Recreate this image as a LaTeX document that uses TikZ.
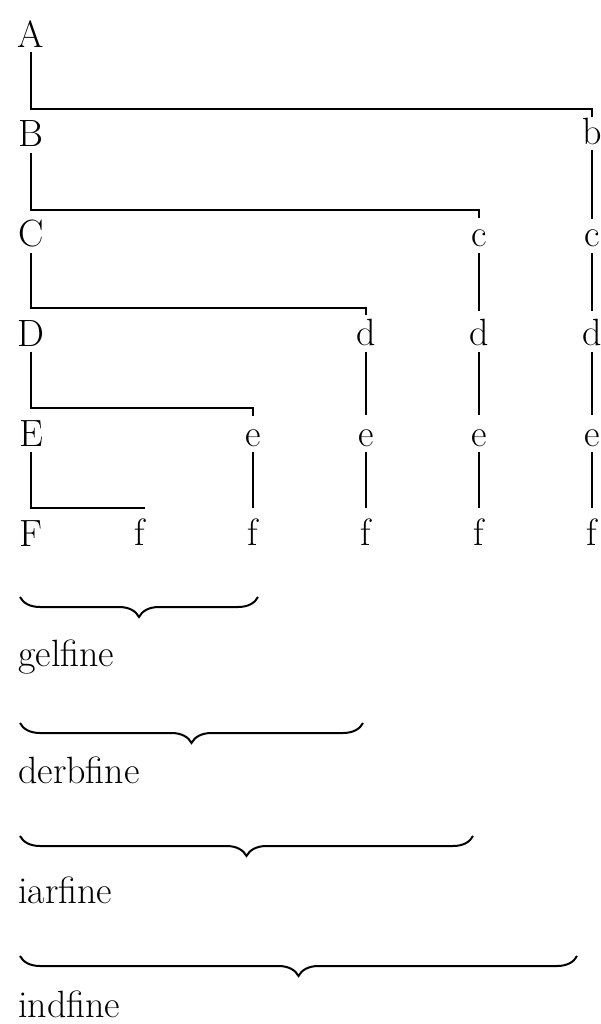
\documentclass[tikz,border=0pt]{standalone}
\usetikzlibrary{decorations.pathreplacing}
\begin{document}
\begin{tikzpicture}[x=1pt,y=-1pt,
  letter/.style={anchor=base, inner sep=0pt, font=\fontsize{38}{40}\selectfont},
  label/.style={anchor=base west, inner sep=0pt, font=\fontsize{38}{40}\selectfont},
  link/.style={line width=1.8pt, line cap=butt, line join=miter},
  curly/.style={line width=2pt, decorate,
    decoration={brace, mirror, amplitude=20pt, raise=0pt}}]
\useasboundingbox (0,0) rectangle (601,1024);

% left spine
\node[letter] (A) at (31,48)  {A};
\node[letter] (B) at (31,147) {B};
\node[letter] (C) at (31,247) {C};
\node[letter] (D) at (31,346) {D};
\node[letter] (E) at (31,446) {E};
\node[letter] (F) at (31,546) {F};

% branch columns
\node[letter] (b5) at (592,145) {b};
\node[letter] (c4) at (479,246) {c};
\node[letter] (c5) at (592,246) {c};
\node[letter] (d3) at (366,345) {d};
\node[letter] (d4) at (479,345) {d};
\node[letter] (d5) at (592,345) {d};
\node[letter] (e2) at (253,446) {e};
\node[letter] (e3) at (366,446) {e};
\node[letter] (e4) at (479,446) {e};
\node[letter] (e5) at (592,446) {e};
\node[letter] (f1) at (140,545) {f};
\node[letter] (f2) at (253,545) {f};
\node[letter] (f3) at (366,545) {f};
\node[letter] (f4) at (479,545) {f};
\node[letter] (f5) at (592,545) {f};

% elbows on the spine
\coordinate (kA) at (31,109);
\coordinate (kB) at (31,210);
\coordinate (kC) at (31,308);
\coordinate (kD) at (31,408);
\coordinate (kE) at (31,508);

% splits off the spine
\draw[link] ([yshift=-4pt]A.base) -- (kA) -- (kA -| b5) -- ++(0,8);
\draw[link] ([yshift=-6pt]B.base) -- (kB) -- (kB -| c4) -- ++(0,8);
\draw[link] ([yshift=-6pt]C.base) -- (kC) -- (kC -| d3) -- ++(0,7);
\draw[link] ([yshift=-6pt]D.base) -- (kD) -- (kD -| e2) -- ++(0,8);
\draw[link] ([yshift=-6pt]E.base) -- (kE) -- (kE -| f1.east);

% descents within each column
\draw[link] ([yshift=-5pt]b5.base) -- ([yshift=27pt]c5.base);
\draw[link] ([yshift=-7pt]c4.base) -- ([yshift=34pt]d4.base);
\draw[link] ([yshift=-7pt]c5.base) -- ([yshift=34pt]d5.base);
\draw[link] ([yshift=-7pt]d3.base) -- ([yshift=31pt]e3.base);
\draw[link] ([yshift=-7pt]d4.base) -- ([yshift=31pt]e4.base);
\draw[link] ([yshift=-7pt]d5.base) -- ([yshift=31pt]e5.base);
\draw[link] ([yshift=-6pt]e2.base) -- ([yshift=37pt]f2.base);
\draw[link] ([yshift=-6pt]e3.base) -- ([yshift=37pt]f3.base);
\draw[link] ([yshift=-6pt]e4.base) -- ([yshift=37pt]f4.base);
\draw[link] ([yshift=-6pt]e5.base) -- ([yshift=37pt]f5.base);

% groupings
\draw[curly] (20,597) -- (258,597);
\node[label] (g1) at (18,666) {gelfine};
\draw[curly] (20,723) -- (363,723);
\node[label] (g2) at (18,783) {derbfine};
\draw[curly] (20,836) -- (473,836);
\node[label] (g3) at (18,903) {iarfine};
\draw[curly] (20,956) -- (577,956);
\node[label] (g4) at (18,1017) {indfine};
\end{tikzpicture}
\end{document}
